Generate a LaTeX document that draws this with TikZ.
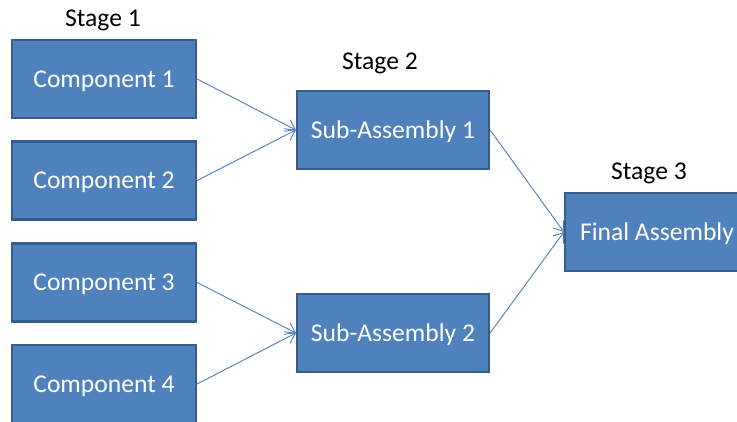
\documentclass[tikz,border=0pt]{standalone}
\usepackage{fontspec}
\setmainfont{Carlito}
\usetikzlibrary{arrows.meta}
\definecolor{boxfill}{HTML}{4F81BD}
\definecolor{boxline}{HTML}{385D8A}
\definecolor{linkcol}{HTML}{4A7EBB}
\begin{document}
\begin{tikzpicture}[x=1pt,y=-1pt,
  stagebox/.style={draw=boxline, fill=boxfill, line width=2.2pt, text=white,
    font=\fontsize{25.6}{28}\selectfont, text height=17pt, text depth=0pt,
    inner sep=0pt, minimum height=78pt},
  compbox/.style={stagebox, minimum width=184pt},
  subbox/.style={stagebox, minimum width=192pt},
  stagelabel/.style={font=\fontsize{25.6}{28}\selectfont, anchor=base, inner sep=0pt},
  link/.style={draw=linkcol, line width=0.9pt,
    -{Straight Barb[length=9pt,width=13pt,line width=0.9pt]}}]
  \useasboundingbox (0,0) rectangle (737,422);
  \clip (0,0) rectangle (737,422);

  % stage titles
  \node[stagelabel] (s1) at (103,27) {Stage 1};
  \node[stagelabel] (s2) at (380,70) {Stage 2};
  \node[stagelabel] (s3) at (649,180) {Stage 3};

  % stage 1 parts
  \node[compbox] (c1) at (104,79) {Component 1};
  \node[compbox] (c2) at (104,180.5) {Component 2};
  \node[compbox] (c3) at (104,282.5) {Component 3};
  \node[compbox] (c4) at (104,384) {Component 4};

  % stage 2 sub-assemblies
  \node[subbox] (a1) at (393,130) {Sub-Assembly 1};
  \node[subbox] (a2) at (393,333) {Sub-Assembly 2};

  % stage 3
  \node[stagebox, minimum width=184pt] (fa) at (657,232) {Final Assembly};

  % flow links
  \draw[link] (c1.east) -- (a1.west);
  \draw[link] (c2.east) -- (a1.west);
  \draw[link] (c3.east) -- (a2.west);
  \draw[link] (c4.east) -- (a2.west);
  \draw[link] (a1.east) -- (fa.west);
  \draw[link] (a2.east) -- (fa.west);
\end{tikzpicture}
\end{document}
